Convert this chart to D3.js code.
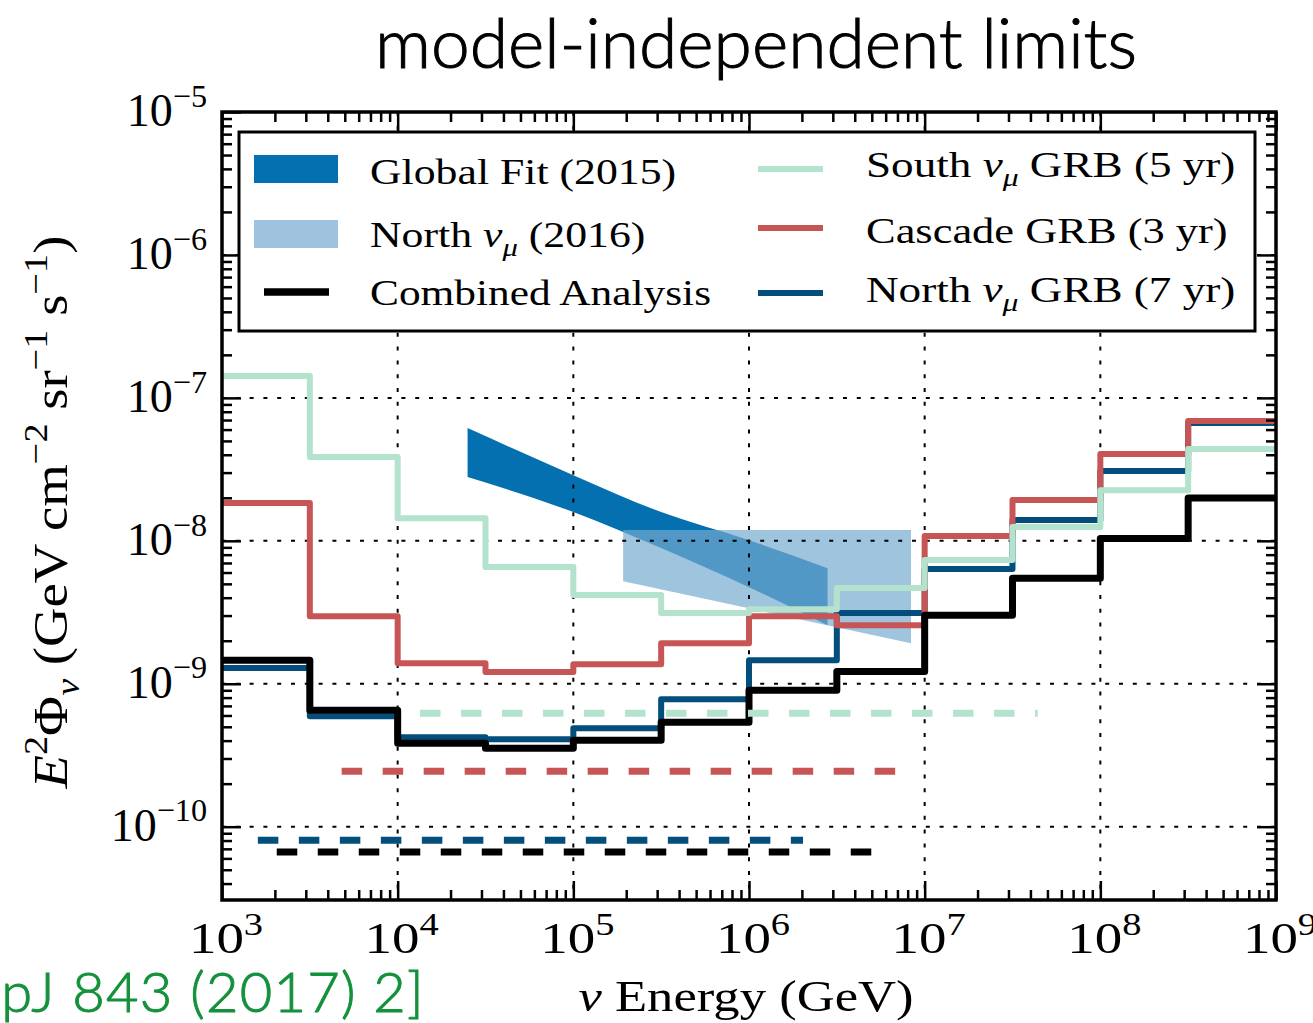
<!DOCTYPE html>
<html>
<head>
<meta charset="utf-8">
<script src="https://cdn.jsdelivr.net/npm/d3@7"></script>
<style>
  body { margin: 0; background: #fff; }
  svg text { font-family: 'Liberation Serif', 'Times New Roman', serif; fill: #000; }
</style>
</head>
<body>
<svg id="chart" width="1313" height="1023"></svg>
<script>
// ---- data ----
const binEdges = [1e3, 3.162e3, 1e4, 3.162e4, 1e5, 3.162e5, 1e6, 3.162e6, 1e7, 3.162e7, 1e8, 3.162e8, 1e9];

const southGRB   = [1.42e-7, 3.86e-8, 1.44e-8, 6.55e-9, 4.17e-9, 3.12e-9, 3.32e-9, 4.67e-9, 7.33e-9, 1.25e-8, 2.26e-8, 4.38e-8];
const cascadeGRB = [1.84e-8, 2.97e-9, 1.39e-9, 1.21e-9, 1.37e-9, 1.92e-9, 2.97e-9, 2.57e-9, 1.08e-8, 1.93e-8, 4.05e-8, 6.89e-8];
const northGRB   = [1.29e-9, 5.93e-10, 4.23e-10, 4.09e-10, 4.89e-10, 7.8e-10, 1.46e-9, 3.12e-9, 6.34e-9, 1.40e-8, 3.08e-8, 6.67e-8];
const combined   = [1.46e-9, 6.53e-10, 3.84e-10, 3.54e-10, 4.03e-10, 5.38e-10, 9.0e-10, 1.22e-9, 3.02e-9, 5.48e-9, 1.04e-8, 1.99e-8];

// dashed sensitivity lines: south, cascade, north, combined
const sensStart = [1.34e4, 4.8e3, 1.6e3, 2.05e3];
const sensEnd   = [4.4e7, 6.8e6, 2.03e6, 5.08e6];
const sensFlux  = [6.22e-10, 2.44e-10, 8.05e-11, 6.64e-11];

// astrophysical flux bands
const globalFitE  = [2.5e4, 1e5, 3.16e5, 1e6, 2.8e6];
const globalFitHi = [6.15e-8, 2.88e-8, 1.59e-8, 1.01e-8, 6.44e-9];
const globalFitLo = [2.79e-8, 1.59e-8, 8.9e-9, 4.74e-9, 2.57e-9];
const northNuE  = [1.92e5, 8.36e6];
const northNuHi = [1.19e-8, 1.19e-8];
const northNuLo = [5.22e-9, 1.92e-9];

const xDomain = [1e3, 1e9];
const yDomain = [3.07e-11, 1e-5];

const colors = {
    globalFit: '#0570b0',
    northNu: '#74a9cf',
    south: '#b3e2cd',
    cascade: '#c85555',
    north: '#034e7b',
    combined: '#000000'
};

// ---- setup ----
const svg = d3.select('#chart');
svg.append('rect').attr('width', 1313).attr('height', 1023).attr('fill', '#fff');

const margin = {top: 112, right: 37, bottom: 123, left: 222};
const width = 1313 - margin.left - margin.right;
const height = 1023 - margin.top - margin.bottom;

const x = d3.scaleLog().domain(xDomain).range([margin.left, margin.left + width]);
const y = d3.scaleLog().domain(yDomain).range([margin.top + height, margin.top]);

const isMajor = v => Math.abs(Math.log10(v) - Math.round(Math.log10(v))) < 1e-6;
const xTicks = x.ticks();
const yTicks = y.ticks();
const xMajor = xTicks.filter(isMajor), xMinor = xTicks.filter(v => !isMajor(v));
const yMajor = yTicks.filter(isMajor), yMinor = yTicks.filter(v => !isMajor(v));

svg.append('defs').append('clipPath').attr('id', 'plot-clip')
    .append('rect')
    .attr('x', margin.left).attr('y', margin.top)
    .attr('width', width).attr('height', height);

const plot = svg.append('g').attr('clip-path', 'url(#plot-clip)');

// bands
const band = d3.area()
    .x(d => x(d[0]))
    .y0(d => y(d[1]))
    .y1(d => y(d[2]))
    .curve(d3.curveMonotoneX);

plot.append('path')
    .attr('d', band(globalFitE.map((e, i) => [e, globalFitLo[i], globalFitHi[i]])))
    .attr('fill', colors.globalFit);
plot.append('path')
    .attr('d', band(northNuE.map((e, i) => [e, northNuLo[i], northNuHi[i]])))
    .attr('fill', colors.northNu)
    .attr('fill-opacity', 0.69);

// grid
plot.append('g').selectAll('line')
    .data(xMajor.filter(v => v > xDomain[0] && v < xDomain[1]))
    .join('line')
        .attr('x1', d => x(d)).attr('x2', d => x(d))
        .attr('y1', margin.top).attr('y2', margin.top + height)
        .attr('stroke', '#000').attr('stroke-width', 2)
        .attr('stroke-dasharray', '4,9.8');
plot.append('g').selectAll('line')
    .data(yMajor.filter(v => v > yDomain[0] && v < yDomain[1]))
    .join('line')
        .attr('y1', d => y(d)).attr('y2', d => y(d))
        .attr('x1', margin.left).attr('x2', margin.left + width)
        .attr('stroke', '#000').attr('stroke-width', 2)
        .attr('stroke-dasharray', '4,9.8');

// step lines
const stepLine = d3.line()
    .x(d => x(d[0]))
    .y(d => y(d[1]))
    .curve(d3.curveStepAfter);

function stepPoints(vals) {
    const pts = vals.map((v, i) => [binEdges[i], v]);
    pts.push([binEdges[binEdges.length - 1], vals[vals.length - 1]]);
    return pts;
}

const stepSeries = [
    {vals: northGRB, color: colors.north, w: 6},
    {vals: cascadeGRB, color: colors.cascade, w: 6},
    {vals: southGRB, color: colors.south, w: 6},
    {vals: combined, color: colors.combined, w: 7}
];
stepSeries.forEach(s => {
    plot.append('path')
        .attr('d', stepLine(stepPoints(s.vals)))
        .attr('fill', 'none')
        .attr('stroke', s.color)
        .attr('stroke-width', s.w)
        .attr('stroke-linejoin', 'round');
});

// dashed sensitivities
const sensColors = [colors.south, colors.cascade, colors.north, colors.combined];
sensFlux.forEach((f, i) => {
    plot.append('line')
        .attr('x1', x(sensStart[i])).attr('x2', x(sensEnd[i]))
        .attr('y1', y(f)).attr('y2', y(f))
        .attr('stroke', sensColors[i])
        .attr('stroke-width', 7)
        .attr('stroke-dasharray', '20.5,20.5');
});

// ---- axes (ticks inside on all four sides) ----
function addTicks(axisFn, transform, values, size) {
    const g = svg.append('g')
        .attr('transform', transform)
        .call(axisFn.tickValues(values).tickSize(-size).tickFormat(''));
    g.select('.domain').remove();
    g.selectAll('.tick line').attr('stroke', '#000').attr('stroke-width', 2.5);
}
const bottomY = margin.top + height, rightX = margin.left + width;
addTicks(d3.axisBottom(x), `translate(0,${bottomY})`, xMajor, 19);
addTicks(d3.axisBottom(x), `translate(0,${bottomY})`, xMinor, 10);
addTicks(d3.axisTop(x), `translate(0,${margin.top})`, xMajor, 19);
addTicks(d3.axisTop(x), `translate(0,${margin.top})`, xMinor, 10);
addTicks(d3.axisLeft(y), `translate(${margin.left},0)`, yMajor, 19);
addTicks(d3.axisLeft(y), `translate(${margin.left},0)`, yMinor, 10);
addTicks(d3.axisRight(y), `translate(${rightX},0)`, yMajor, 19);
addTicks(d3.axisRight(y), `translate(${rightX},0)`, yMinor, 10);

svg.append('rect')
    .attr('x', margin.left).attr('y', margin.top)
    .attr('width', width).attr('height', height)
    .attr('fill', 'none').attr('stroke', '#000').attr('stroke-width', 3.5);

// tick labels 10^n
function powLabel(g, exp, size) {
    const t = g.append('text').attr('font-size', size);
    t.append('tspan').text('10');
    t.append('tspan').attr('font-size', size * 0.7).attr('dy', -size * 0.42)
        .text(String(exp).replace('-', '\u2212'));
    return t;
}
yMajor.forEach(v => {
    const g = svg.append('g').attr('transform', `translate(207,${y(v) + 14})`);
    powLabel(g, Math.round(Math.log10(v)), 46).attr('text-anchor', 'end');
});
xMajor.forEach(v => {
    const g = svg.append('g').attr('transform', `translate(${x(v) + 4},953) scale(1.25,1)`);
    powLabel(g, Math.round(Math.log10(v)), 44).attr('text-anchor', 'middle');
});

// rich text helper: parts = [text, kind]
function richText(t, parts, size) {
    let shift = 0;
    parts.forEach(([txt, kind]) => {
        const s = t.append('tspan').text(txt);
        let target = 0;
        if (kind === 'i') s.attr('font-style', 'italic');
        if (kind === 'sub') { target = size * 0.25; s.attr('font-size', size * 0.7).attr('font-style', 'italic'); }
        if (kind === 'sup') { target = -size * 0.42; s.attr('font-size', size * 0.7); }
        if (target !== shift) { s.attr('dy', target - shift); shift = target; }
    });
}

// axis labels
const xl = svg.append('g').attr('transform', 'translate(746,1011) scale(1.17,1)')
    .append('text').attr('font-size', 45).attr('text-anchor', 'middle');
richText(xl, [['\u03BD', 'i'], [' Energy (GeV)']], 45);

const yl = svg.append('g').attr('transform', 'translate(67,512) rotate(-90) scale(1.14,1)')
    .append('text').attr('font-size', 48).attr('text-anchor', 'middle');
richText(yl, [['E', 'i'], ['2', 'sup'], ['\u03A6'], ['\u03BD', 'sub'], [' (GeV cm'], ['\u22122', 'sup'],
    [' sr'], ['\u22121', 'sup'], [' s'], ['\u22121', 'sup'], [')']], 48);

// title + citation
svg.append('text')
    .attr('x', 756).attr('y', 68)
    .attr('text-anchor', 'middle')
    .attr('font-size', 69.5)
    .attr('font-weight', 300)
    .attr('stroke', '#000').attr('stroke-width', 1)
    .style('font-family', 'Lato, sans-serif')
    .text('model-independent limits');
svg.append('text')
    .attr('x', 425).attr('y', 1012)
    .attr('text-anchor', 'end')
    .attr('font-size', 56)
    .attr('font-weight', 300)
    .attr('letter-spacing', 1.3)
    .attr('stroke', '#14913c').attr('stroke-width', 1)
    .style('font-family', 'Lato, sans-serif')
    .style('fill', '#14913c')
    .text('[ApJ 843 (2017) 2]');

// ---- legend ----
const legend = svg.append('g');
legend.append('rect')
    .attr('x', 239).attr('y', 132).attr('width', 1016).attr('height', 199)
    .attr('fill', '#fff').attr('stroke', '#000').attr('stroke-width', 3);

const legendItems = [
    {kind: 'patch', color: colors.globalFit, x: 254, y: 169, tx: 370, ty: 184, sx: 1.25,
     label: [['Global Fit (2015)']]},
    {kind: 'patch', color: '#9fc3de', x: 254, y: 234, tx: 370, ty: 247, sx: 1.25,
     label: [['North '], ['\u03BD', 'i'], ['\u03BC', 'sub'], [' (2016)']]},
    {kind: 'line', color: colors.combined, x: 264, y: 292, w: 7.5, len: 65, tx: 370, ty: 305, sx: 1.24,
     label: [['Combined Analysis']]},
    {kind: 'line', color: colors.south, x: 758, y: 169, w: 6, len: 65, tx: 866, ty: 177, sx: 1.29,
     label: [['South '], ['\u03BD', 'i'], ['\u03BC', 'sub'], [' GRB (5 yr)']]},
    {kind: 'line', color: colors.cascade, x: 758, y: 228, w: 6, len: 65, tx: 866, ty: 243, sx: 1.27,
     label: [['Cascade GRB (3 yr)']]},
    {kind: 'line', color: colors.north, x: 758, y: 293, w: 6, len: 65, tx: 866, ty: 302, sx: 1.29,
     label: [['North '], ['\u03BD', 'i'], ['\u03BC', 'sub'], [' GRB (7 yr)']]}
];
legendItems.forEach(d => {
    if (d.kind === 'patch') {
        legend.append('rect')
            .attr('x', d.x).attr('y', d.y - 14).attr('width', 84).attr('height', 28)
            .attr('fill', d.color);
    } else {
        legend.append('line')
            .attr('x1', d.x).attr('x2', d.x + d.len)
            .attr('y1', d.y).attr('y2', d.y)
            .attr('stroke', d.color).attr('stroke-width', d.w);
    }
    const t = legend.append('g')
        .attr('transform', `translate(${d.tx},${d.ty}) scale(${d.sx},1)`)
        .append('text').attr('font-size', 35);
    richText(t, d.label, 35);
});
</script>
</body>
</html>
